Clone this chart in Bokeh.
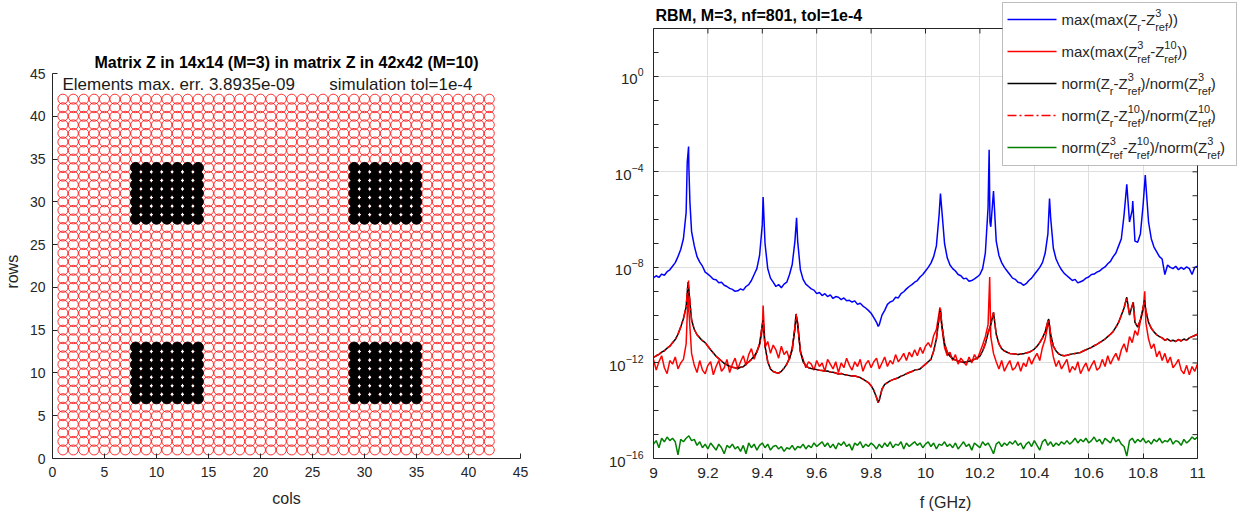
import numpy as np
from bokeh.plotting import figure
from bokeh.models import (Label, BoxAnnotation, Arrow, FixedTicker, CustomJSTickFormatter,
                          LogAxis, LogTickFormatter, Range1d)
from bokeh.layouts import row
from bokeh.embed import file_html
from bokeh.resources import INLINE

FONT = "Liberation Sans"
AXC = "#262626"

# ---------------- left chart data ----------------
grid_size = 42
block_cols = [8, 9, 10, 11, 12, 13, 14, 29, 30, 31, 32, 33, 34, 35]
block_rows = [7, 8, 9, 10, 11, 12, 13, 28, 29, 30, 31, 32, 33, 34]
left_ticks = [0, 5, 10, 15, 20, 25, 30, 35, 40, 45]
left_title = "Matrix Z in 14x14 (M=3) in matrix Z in 42x42 (M=10)"
left_note1 = "Elements max. err. 3.8935e-09"
left_note2 = "simulation tol=1e-4"

# ---------------- right chart data (log10 of the errors) ----------------
right_title = "RBM, M=3, nf=801, tol=1e-4"
right_xticks = [9.0, 9.2, 9.4, 9.6, 9.8, 10.0, 10.2, 10.4, 10.6, 10.8, 11.0]
right_xtick_labels = ["9", "9.2", "9.4", "9.6", "9.8", "10", "10.2", "10.4", "10.6", "10.8", "11"]
right_ylabel_exps = [-16, -12, -8, -4, 0]
right_y_lo, right_y_hi = -16, 2

freq = np.linspace(9.0, 11.0, 201)

blue_log = [
    -8.44, -8.35, -8.42, -8.28, -8.33, -8.18, -8.10, -7.95, -7.80, -7.55,
    -7.25, -6.80, -5.70, -3.80, -6.50, -7.10, -7.55, -7.78, -7.95, -8.20,
    -8.28, -8.38, -8.50, -8.52, -8.64, -8.62, -8.75, -8.80, -8.88, -8.92,
    -9.00, -8.98, -8.90, -8.95, -8.80, -8.72, -8.55, -8.30, -8.05, -7.50,
    -6.20, -7.00, -8.05, -8.45, -8.62, -8.80, -8.72, -8.85, -8.70, -8.62,
    -8.30, -7.88, -6.90, -6.90, -8.10, -8.50, -8.70, -8.80, -8.90, -8.95,
    -9.10, -9.05, -9.18, -9.10, -9.22, -9.15, -9.30, -9.22, -9.25, -9.35,
    -9.28, -9.40, -9.38, -9.45, -9.40, -9.55, -9.50, -9.62, -9.70, -9.80,
    -9.92, -10.10, -10.30, -10.40, -10.00, -9.80, -9.55, -9.45, -9.40, -9.25,
    -9.28, -9.10, -9.02, -8.90, -8.80, -8.72, -8.62, -8.55, -8.40, -8.30,
    -8.15, -8.00, -7.82, -7.55, -7.10, -5.80, -5.60, -7.00, -7.60, -7.90,
    -8.05, -8.15, -8.30, -8.35, -8.48, -8.45, -8.58, -8.55, -8.48, -8.40,
    -8.30, -8.05, -7.40, -5.50, -6.30, -4.80, -6.90, -7.50, -7.80, -8.00,
    -8.15, -8.30, -8.45, -8.50, -8.62, -8.65, -8.75, -8.68, -8.55, -8.45,
    -8.30, -8.15, -8.00, -7.80, -7.40, -6.60, -5.90, -7.20, -7.65, -7.90,
    -8.10, -8.25, -8.35, -8.45, -8.55, -8.50, -8.65, -8.60, -8.55, -8.45,
    -8.40, -8.30, -8.28, -8.20, -8.15, -8.05, -7.98, -7.85, -7.75, -7.55,
    -7.40, -7.10, -6.80, -5.80, -4.52, -6.10, -5.60, -6.90, -6.95, -6.60,
    -5.40, -4.50, -6.10, -6.80, -7.15, -7.35, -7.55, -7.65, -8.30, -7.90,
    -8.00, -8.05, -7.95, -8.10, -8.00, -8.08, -7.98, -8.05, -8.30, -8.00,
    -7.95]
blue_pk_f = [9.124, 9.129, 9.134, 9.403, 9.526, 9.826, 10.055, 10.234, 10.237, 10.456, 10.762, 10.808]
blue_pk_log = [-3.60, -2.94, -5.30, -5.05, -5.92, -10.47, -4.91, -3.08, -6.10, -5.12, -5.22, -4.13]

red_log = [
    -11.85, -12.30, -11.95, -11.70, -12.20, -12.45, -11.90, -12.05, -11.75, -12.25,
    -12.00, -11.85, -11.20, -9.80, -11.60, -12.10, -12.40, -11.90, -12.30, -12.45,
    -12.10, -11.95, -12.50, -12.15, -11.90, -12.35, -12.20, -11.85, -12.40, -12.05,
    -11.80, -12.25, -11.95, -11.70, -12.10, -11.65, -11.40, -11.85, -11.50, -11.25,
    -10.60, -11.35, -11.10, -11.60, -11.25, -11.45, -11.80, -11.30, -11.65, -11.50,
    -11.85, -11.35, -10.60, -10.30, -11.55, -11.85, -12.20, -11.95, -12.05, -12.30,
    -11.90, -12.15, -12.00, -12.35, -11.85, -12.05, -12.25, -11.95, -12.40, -12.00,
    -12.20, -11.80, -12.10, -12.30, -11.95, -12.15, -11.85, -12.35, -12.05, -11.90,
    -12.20, -11.95, -11.80, -12.25, -12.00, -11.75, -12.15, -11.90, -12.05, -11.65,
    -11.95, -11.80, -11.60, -11.90, -11.55, -11.75, -11.45, -11.70, -11.35, -11.60,
    -11.30, -11.15, -11.35, -10.85, -10.60, -9.90, -10.50, -11.35, -11.70, -11.55,
    -11.90, -11.65, -12.05, -11.80, -11.95, -12.10, -11.75, -12.00, -11.65, -11.85,
    -11.55, -11.25, -10.90, -10.40, -10.90, -11.60, -11.95, -12.25, -11.90, -12.35,
    -12.10, -11.90, -12.30, -12.20, -11.95, -12.35, -12.00, -12.15, -11.75, -12.05,
    -11.80, -11.60, -11.90, -11.35, -11.00, -10.40, -11.10, -11.75, -12.15, -11.90,
    -12.25, -12.05, -11.85, -12.40, -12.15, -12.30, -11.95, -12.45, -12.20, -12.00,
    -12.35, -12.10, -11.90, -12.30, -12.20, -11.85, -12.15, -11.70, -12.05, -11.80,
    -11.60, -11.90, -11.45, -11.20, -11.55, -10.90, -11.15, -10.65, -10.85, -10.25,
    -9.80, -10.30, -11.00, -11.40, -11.20, -11.75, -11.50, -11.90, -11.60, -12.00,
    -11.75, -12.20, -12.05, -11.85, -12.30, -12.45, -12.10, -12.50, -12.15, -12.35,
    -12.05]
red_pk_f = [9.129, 9.403, 9.525, 10.053, 10.236, 10.453, 10.806]
red_pk_log = [-8.55, -9.60, -10.05, -9.67, -8.40, -10.23, -9.00]

norm3_log = [
    -11.77, -11.70, -11.64, -11.55, -11.49, -11.38, -11.30, -11.15, -11.02, -10.80,
    -10.50, -10.15, -9.65, -8.95, -10.20, -10.60, -10.82, -10.95, -11.07, -11.15,
    -11.30, -11.45, -11.58, -11.72, -11.82, -11.92, -12.02, -12.08, -12.14, -12.18,
    -12.20, -12.24, -12.18, -12.16, -12.05, -11.96, -11.85, -11.72, -11.55, -11.20,
    -10.40, -11.30, -11.95, -12.25, -12.36, -12.40, -12.43, -12.35, -12.22, -12.05,
    -11.80, -11.45, -10.50, -10.40, -11.50, -11.95, -12.10, -12.20, -12.23, -12.25,
    -12.28, -12.31, -12.32, -12.35, -12.34, -12.38, -12.39, -12.42, -12.46, -12.44,
    -12.48, -12.50, -12.53, -12.55, -12.54, -12.58, -12.61, -12.68, -12.75, -12.82,
    -12.95, -13.15, -13.45, -13.55, -13.10, -12.90, -12.82, -12.75, -12.70, -12.66,
    -12.62, -12.55, -12.51, -12.45, -12.40, -12.36, -12.30, -12.28, -12.25, -12.15,
    -12.05, -11.95, -11.85, -11.50, -11.00, -10.10, -10.40, -11.20, -11.55, -11.72,
    -11.82, -11.88, -11.92, -11.95, -11.98, -11.95, -11.93, -11.90, -11.85, -11.80,
    -11.72, -11.50, -11.20, -10.75, -10.40, -9.88, -10.80, -11.20, -11.40, -11.50,
    -11.55, -11.60, -11.62, -11.63, -11.65, -11.63, -11.62, -11.58, -11.55, -11.50,
    -11.42, -11.30, -11.15, -10.95, -10.70, -10.25, -10.80, -11.30, -11.50, -11.62,
    -11.68, -11.70, -11.68, -11.65, -11.62, -11.60, -11.58, -11.56, -11.50, -11.45,
    -11.40, -11.35, -11.28, -11.22, -11.15, -11.08, -11.00, -10.90, -10.80, -10.68,
    -10.50, -10.30, -10.00, -9.70, -9.25, -10.00, -9.60, -10.30, -10.50, -10.20,
    -9.70, -9.80, -10.30, -10.55, -10.70, -10.82, -10.90, -10.95, -11.05, -11.00,
    -11.08, -11.05, -11.10, -11.02, -11.08, -11.00, -11.05, -10.95, -10.90, -10.85,
    -10.80]
norm3_pk_f = [9.127, 9.403, 9.524, 9.826, 10.055, 10.453, 10.764, 10.805]
norm3_pk_log = [-8.62, -10.23, -9.95, -13.67, -9.74, -10.16, -9.46, -9.39]

# the red dash-dot curve lies on top of the black one in the picture
norm10_log = list(norm3_log)
norm10_pk_f = list(norm3_pk_f)
norm10_pk_log = list(norm3_pk_log)

green_log = [
    -15.40, -15.25, -15.55, -15.15, -15.30, -15.10, -15.25, -15.15, -15.30, -15.85,
    -15.20, -15.30, -15.15, -15.05, -15.25, -15.20, -15.45, -15.30, -15.55, -15.40,
    -15.60, -15.35, -15.50, -15.65, -15.40, -15.55, -15.80, -15.45, -15.55, -15.40,
    -15.60, -15.50, -15.70, -15.45, -15.80, -15.35, -15.55, -15.40, -15.65, -15.45,
    -15.35, -15.55, -15.40, -15.65, -15.50, -15.45, -15.60, -15.50, -15.70, -15.55,
    -15.60, -15.45, -15.65, -15.50, -15.55, -15.40, -15.60, -15.45, -15.55, -15.35,
    -15.50, -15.40, -15.30, -15.50, -15.35, -15.55, -15.40, -15.60, -15.35, -15.45,
    -15.30, -15.50, -15.40, -15.65, -15.35, -15.45, -15.30, -15.55, -15.40, -15.50,
    -15.35, -15.45, -15.60, -15.40, -15.55, -15.35, -15.50, -15.30, -15.55, -15.40,
    -15.45, -15.30, -15.60, -15.35, -15.50, -15.40, -15.30, -15.45, -15.35, -15.55,
    -15.40, -15.30, -15.50, -15.35, -15.60, -15.40, -15.45, -15.30, -15.50, -15.40,
    -15.55, -15.35, -15.60, -15.45, -15.30, -15.50, -15.40, -15.65, -15.35, -15.45,
    -15.55, -15.30, -15.45, -15.35, -15.55, -15.80, -15.40, -15.30, -15.50, -15.35,
    -15.45, -15.30, -15.40, -15.25, -15.45, -15.35, -15.60, -15.40, -15.30, -15.50,
    -15.25, -15.45, -15.65, -15.30, -15.20, -15.45, -15.30, -15.50, -15.35, -15.45,
    -15.30, -15.40, -15.25, -15.40, -15.30, -15.15, -15.35, -15.20, -15.30, -15.15,
    -15.35, -15.25, -15.10, -15.30, -15.20, -15.40, -15.15, -15.25, -15.35, -15.10,
    -15.30, -15.20, -15.40, -15.50, -15.90, -15.25, -15.15, -15.35, -15.20, -15.30,
    -15.15, -15.35, -15.25, -15.40, -15.20, -15.30, -15.15, -15.35, -15.25, -15.30,
    -15.15, -15.40, -15.25, -15.30, -15.45, -15.20, -15.35, -15.25, -15.10, -15.20,
    -15.10]

series_colors = ["#0000ff", "#ff0000", "#000000", "#ff0000", "#008000"]
series_dash = ["solid", "solid", "solid", "9 3 2 3", "solid"]

# legend label pieces: ('m', text) normal text, ('s', superscript, subscript)
legend_rows = [
    [('m', "max(max(Z"), ('s', "", "r"), ('m', "-Z"), ('s', "3", "ref"), ('m', "))")],
    [('m', "max(max(Z"), ('s', "3", "ref"), ('m', "-Z"), ('s', "10", "ref"), ('m', "))")],
    [('m', "norm(Z"), ('s', "", "r"), ('m', "-Z"), ('s', "3", "ref"), ('m', ")/norm(Z"), ('s', "3", "ref"), ('m', ")")],
    [('m', "norm(Z"), ('s', "", "r"), ('m', "-Z"), ('s', "10", "ref"), ('m', ")/norm(Z"), ('s', "10", "ref"), ('m', ")")],
    [('m', "norm(Z"), ('s', "3", "ref"), ('m', "-Z"), ('s', "10", "ref"), ('m', ")/norm(Z"), ('s', "3", "ref"), ('m', ")")],
]

# ---------------- helpers ----------------
AW = {'m': 833, 'a': 556, 'x': 500, '(': 333, ')': 333, 'Z': 611, 'r': 333, '-': 333,
      'e': 556, 'f': 278, 'n': 556, 'o': 556, '/': 278, ' ': 278, '\u00a0': 278}


def tw(s, size):
    return sum(AW.get(c, 556) for c in s) * size / 1000.0


def merged(base, pk_f, pk_v):
    f = np.concatenate([freq, np.array(pk_f, dtype=float)])
    v = np.concatenate([np.array(base, dtype=float), np.array(pk_v, dtype=float)])
    o = np.argsort(f, kind="stable")
    return f[o], 10.0 ** v[o]


def style_axis(ax, size):
    ax.axis_line_color = AXC
    ax.major_tick_line_color = AXC
    ax.major_tick_in = 5
    ax.major_tick_out = 0
    ax.minor_tick_line_color = None
    ax.major_label_text_color = AXC
    ax.major_label_text_font = FONT
    ax.major_label_text_font_size = size
    ax.axis_label_text_font = FONT
    ax.axis_label_text_font_size = "16px"
    ax.axis_label_text_font_style = "normal"
    ax.axis_label_text_color = AXC


H = 513             # figure height
FRAME_BOTTOM = 458  # page y of the lower axis line (both panels)

# ---------------- left figure ----------------
L_X0, L_X1 = 50, 520      # page x of 0 and 45
L_Y45 = 73                # page y of 45
L_PX = (FRAME_BOTTOM - L_Y45) / 45.0


def lx(px):
    return (px - L_X0) * 45.0 / (L_X1 - L_X0)


def ly(py):
    return (FRAME_BOTTOM - py) / L_PX


pL = figure(width=545, height=H, title=None,
            x_range=Range1d(0, 45), y_range=Range1d(0, FRAME_BOTTOM / L_PX),
            output_backend="svg", toolbar_location=None,
            min_border_left=L_X0, min_border_right=545 - L_X1, min_border_top=0,
            min_border_bottom=H - FRAME_BOTTOM)
pL.outline_line_color = None
pL.grid.visible = False

gc, gr = np.meshgrid(np.arange(1, grid_size + 1), np.arange(1, grid_size + 1))
pL.scatter(gc.ravel(), gr.ravel(), marker="circle", size=10, fill_color=None,
           line_color="#ff0000", line_width=0.8)
bc, br = np.meshgrid(block_cols, block_rows)
pL.scatter(bc.ravel(), br.ravel(), marker="circle", size=10.5, fill_color="black",
           line_color="black", line_width=0.8)

for ax in (pL.xaxis[0], pL.yaxis[0]):
    style_axis(ax, "14px")
    ax.ticker = FixedTicker(ticks=left_ticks)
    ax.bounds = (0, 45)
pL.xaxis.major_label_standoff = 8
pL.yaxis.major_label_standoff = 7
pL.xaxis.axis_label = "cols"
pL.xaxis.axis_label_standoff = 10
# no-break spaces after the word move the (upward-reading) label down to where it sits in the picture
pL.yaxis.axis_label = "rows" + "\u00a0" * 19
pL.yaxis.axis_label_standoff = 6

pL.add_layout(Label(x=lx(285), y=ly(62), text=left_title, text_align="center",
                    text_baseline="middle", text_font=FONT, text_font_size="16px",
                    text_font_style="bold", text_color="black"))
pL.add_layout(Label(x=lx(60), y=ly(84), text=left_note1, text_align="left",
                    text_baseline="middle", text_font=FONT, text_font_size="17px",
                    text_color="#1a1a1a"))
pL.add_layout(Label(x=lx(328), y=ly(84), text=left_note2, text_align="left",
                    text_baseline="middle", text_font=FONT, text_font_size="17px",
                    text_color="#1a1a1a"))

# ---------------- right figure ----------------
R_FIG_X = 545             # page x where the right figure starts
R_X9 = 653                # page x of f = 9
R_PPG = 272.0             # pixels per GHz
R_FRAME_RIGHT = 1237      # page x of the frame's right edge (legend edge)
DEC = (FRAME_BOTTOM - 28) / float(right_y_hi - right_y_lo)   # pixels per decade
R_W = 1243 - R_FIG_X


def rx(px):
    return 9.0 + (px - R_X9) / R_PPG


def ry(py):
    return 10.0 ** (right_y_lo + (FRAME_BOTTOM - py) / DEC)


pR = figure(width=R_W, height=H, title=None,
            x_range=Range1d(9, rx(R_FRAME_RIGHT)), y_range=Range1d(10.0 ** right_y_lo, ry(0)),
            y_axis_type="log", output_backend="svg", toolbar_location=None,
            min_border_left=R_X9 - R_FIG_X, min_border_right=R_W - (R_FRAME_RIGHT - R_FIG_X),
            min_border_top=0, min_border_bottom=H - FRAME_BOTTOM)
pR.outline_line_color = None

blank = CustomJSTickFormatter(code="return '';")
xfmt = CustomJSTickFormatter(args=dict(t=right_xticks, l=right_xtick_labels),
                             code="const i = t.findIndex(v => Math.abs(v - tick) < 1e-9); return i >= 0 ? l[i] : '';")
decades = [10.0 ** k for k in range(right_y_lo, right_y_hi + 1)]
y_bounds = (10.0 ** right_y_lo, 10.0 ** right_y_hi)

style_axis(pR.xaxis[0], "15.5px")
pR.xaxis.ticker = FixedTicker(ticks=right_xticks)
pR.xaxis.formatter = xfmt
pR.xaxis.bounds = (9, 11)
pR.xaxis.major_label_standoff = 9
pR.xaxis.axis_label = "f (GHz)"
pR.xaxis.axis_label_standoff = 13

style_axis(pR.yaxis[0], "0px")
pR.yaxis.ticker = FixedTicker(ticks=decades)
pR.yaxis.formatter = blank
pR.yaxis.bounds = y_bounds
pR.yaxis.major_label_standoff = 0

ylab_ax = LogAxis(ticker=FixedTicker(ticks=[10.0 ** k for k in right_ylabel_exps]),
                  formatter=LogTickFormatter())
style_axis(ylab_ax, "15px")
ylab_ax.axis_line_color = None
ylab_ax.major_tick_line_color = None
ylab_ax.major_label_standoff = 10
pR.add_layout(ylab_ax, "left")

pR.xgrid.ticker = FixedTicker(ticks=right_xticks)
pR.ygrid.ticker = FixedTicker(ticks=[10.0 ** k for k in right_ylabel_exps])
pR.grid.grid_line_color = "#dedede"
pR.grid.grid_line_width = 1
# keep the grid inside the axes box
pR.add_layout(BoxAnnotation(bottom=10.0 ** right_y_hi, fill_color="white", fill_alpha=1.0,
                            line_color=None, level="underlay"))
pR.add_layout(BoxAnnotation(left=11.0, fill_color="white", fill_alpha=1.0,
                            line_color=None, level="underlay"))

series = [merged(blue_log, blue_pk_f, blue_pk_log),
          merged(red_log, red_pk_f, red_pk_log),
          merged(norm3_log, norm3_pk_f, norm3_pk_log),
          merged(norm10_log, norm10_pk_f, norm10_pk_log),
          merged(green_log, [], [])]
for (fx, fy), c, d in zip(series, series_colors, series_dash):
    pR.line(fx, fy, line_color=c, line_width=1.5, line_dash=d)

# top and right edges of the axes box, with inward ticks
y_top = 10.0 ** right_y_hi
pR.segment(x0=[9.0, 11.0], y0=[y_top, 10.0 ** right_y_lo], x1=[11.0, 11.0], y1=[y_top, y_top],
           line_color=AXC, line_width=1)
tick_dy = 10.0 ** (right_y_hi - 5.0 / DEC)
pR.segment(x0=right_xticks, y0=[y_top] * len(right_xticks), x1=right_xticks,
           y1=[tick_dy] * len(right_xticks), line_color=AXC, line_width=1)
pR.segment(x0=[11.0] * len(decades), y0=decades, x1=[11.0 - 5.0 / R_PPG] * len(decades),
           y1=decades, line_color=AXC, line_width=1)

pR.add_layout(Label(x=rx(655), y=ry(15), text=right_title, text_align="left",
                    text_baseline="middle", text_font=FONT, text_font_size="16px",
                    text_font_style="bold", text_color="black"))

# legend
pR.add_layout(BoxAnnotation(left=rx(1002), right=rx(1236), top=ry(2), bottom=ry(165),
                            fill_color="white", fill_alpha=1.0, line_color=AXC,
                            line_width=1, level="annotation"))
row_py = [19, 51, 83, 115, 147]
MAIN, SCR = 15, 11
for segs, py, c, d in zip(legend_rows, row_py, series_colors, series_dash):
    pR.add_layout(Arrow(end=None, x_start=rx(1007), y_start=ry(py), x_end=rx(1056),
                        y_end=ry(py), line_color=c, line_width=1.5, line_dash=d))
    cx = 1061.0
    for seg in segs:
        if seg[0] == 'm':
            pR.add_layout(Label(x=rx(cx), y=ry(py), text=seg[1], text_align="left",
                                text_baseline="middle", text_font=FONT,
                                text_font_size=f"{MAIN}px", text_color=AXC))
            cx += tw(seg[1], MAIN)
        else:
            sup, sub = seg[1], seg[2]
            if sup:
                pR.add_layout(Label(x=rx(cx), y=ry(py - 7), text=sup, text_align="left",
                                    text_baseline="middle", text_font=FONT,
                                    text_font_size=f"{SCR}px", text_color=AXC))
            pR.add_layout(Label(x=rx(cx), y=ry(py + 7), text=sub, text_align="left",
                                text_baseline="middle", text_font=FONT,
                                text_font_size=f"{SCR}px", text_color=AXC))
            cx += max(tw(sup, SCR), tw(sub, SCR))

layout = row(pL, pR)
open("out.html", "w").write(file_html(layout, INLINE))
